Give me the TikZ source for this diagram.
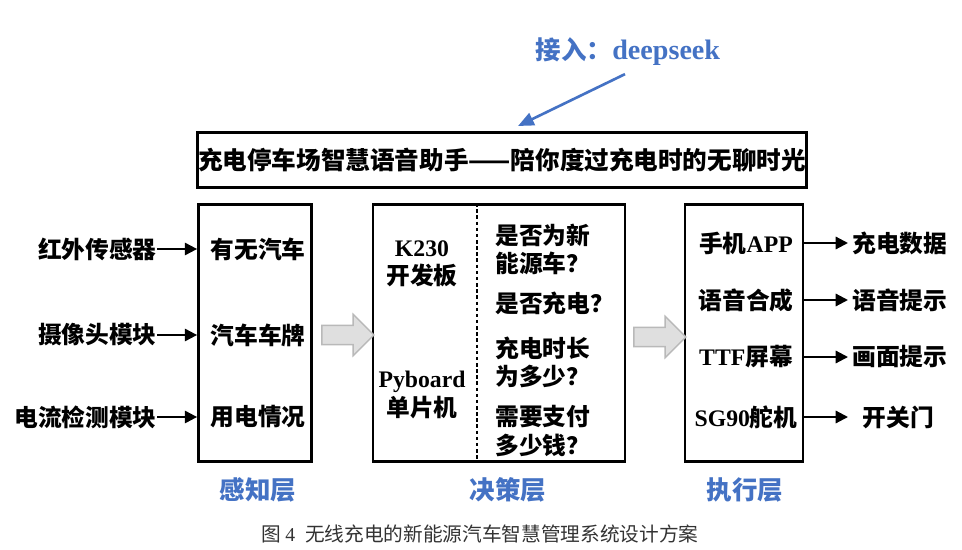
\documentclass[tikz,border=0pt]{standalone}
\usepackage{fontspec}
\setmainfont{Noto Sans CJK SC}
\newfontfamily\latfont{Liberation Serif}[BoldFont={Liberation Serif Bold}]
\newcommand{\lat}[1]{{\latfont\bfseries #1}}
\usetikzlibrary{arrows.meta,positioning,shapes.arrows}
\definecolor{layerblue}{RGB}{68,114,196}

\begin{document}
\begin{tikzpicture}[
		x=0.02cm, y=-0.02cm,
		box/.style={draw, line width=1.6pt, inner sep=0pt},
		txt/.style={font=\fontsize{13.5pt}{16pt}\selectfont\bfseries, inner sep=0pt, align=center},
		layer/.style={font=\fontsize{14.5pt}{17pt}\selectfont\bfseries, text=layerblue},
		arrow/.style={-{Triangle[length=7pt,width=7pt]}, line width=1.2pt},
		dsarrow/.style={-{Triangle[length=9pt,width=7.5pt]}, line width=1.5pt, draw=layerblue, fill=layerblue},
		flow/.style={single arrow, draw=gray!55, fill=gray!25, line width=0.8pt, minimum height=1.04cm, inner xsep=0pt, inner ysep=0.18cm, single arrow head extend=0.22cm},
	]
		\useasboundingbox (0,0) rectangle (962,550);
		
		% top: deepseek and title
		\node[layer] (ds) at (628,52) {接入：\lat{\fontsize{16pt}{18pt}\selectfont deepseek}};
		\node[box, minimum width=12.18cm, minimum height=1.1cm, font=\fontsize{14pt}{16pt}\selectfont\bfseries] (title) at (502,160) {充电停车场智慧语音助手——陪你度过充电时的无聊时光};
		\coordinate (dsend) at (518,126);
		\draw[dsarrow] ([xshift=-0.06cm,yshift=-0.04cm]ds.south) -- (dsend);
		
		% three layers
		\node[box, minimum width=2.26cm, minimum height=5.14cm] (sense) at (255,333) {};
		\node[box, minimum width=5.04cm, minimum height=5.14cm] (decide) at (499,333) {};
		\node[box, minimum width=2.36cm, minimum height=5.14cm] (act) at (744,333) {};
		\node[flow] (flow1) at (343,335) {};
		\node[flow] (flow2) at (655,337) {};
		
		% sensing
		\node[txt, anchor=east] (ir) at (157,249) {红外传感器};
		\node[txt, anchor=east] (cam) at (157,335) {摄像头模块};
		\node[txt, anchor=east] (cur) at (157,417) {电流检测模块};
		\node[txt] (car) at (258,249) {有无汽车};
		\node[txt] (plate) at (258,335) {汽车车牌};
		\node[txt] (power) at (258,417) {用电情况};
		\draw[arrow] (ir.east) -- (ir -| sense.west);
		\draw[arrow] (cam.east) -- (cam -| sense.west);
		\draw[arrow] (cur.east) -- (cur -| sense.west);
		
		% decision
		\coordinate (split) at (477,0);
		\draw[line width=0.9pt, dash pattern=on 2pt off 1.5pt] (decide.north -| split) -- (decide.south -| split);
		\node[txt] (k230) at (422,264) {\lat{K230}\\开发板};
		\node[txt] (pyb) at (422,395) {\lat{Pyboard}\\单片机};
		\node[txt, anchor=west, align=left] (q1) at (495,249) {是否为新\\能源车？};
		\node[txt, anchor=west, align=left] (q2) at (495,303) {是否充电？};
		\node[txt, anchor=west, align=left] (q3) at (495,362) {充电时长\\为多少？};
		\node[txt, anchor=west, align=left] (q4) at (495,431) {需要支付\\多少钱？};
		
		% action
		\node[txt] (app) at (746,243) {手机\lat{APP}};
		\node[txt] (voice) at (746,300) {语音合成};
		\node[txt] (tft) at (746,357) {\lat{TTF}屏幕};
		\node[txt] (servo) at (746,417) {\lat{SG90}舵机};
		\node[txt, anchor=west, minimum width=1.84cm] (data) at (852,243) {充电数据};
		\node[txt, anchor=west, minimum width=1.84cm] (tip) at (852,300) {语音提示};
		\node[txt, anchor=west, minimum width=1.84cm] (screen) at (852,357) {画面提示};
		\node[txt, anchor=west, minimum width=1.84cm] (door) at (852,417) {开关门};
		\draw[arrow, shorten >=0.08cm] (app -| act.east) -- (data.west);
		\draw[arrow, shorten >=0.08cm] (voice -| act.east) -- (tip.west);
		\draw[arrow, shorten >=0.08cm] (tft -| act.east) -- (screen.west);
		\draw[arrow, shorten >=0.08cm] (servo -| act.east) -- (door.west);
		
		% layer names and caption
		\node[layer] (l1) at (258,490) {感知层};
		\node[layer] (l2) at (508,490) {决策层};
		\node[layer] (l3) at (745,490) {执行层};
		\node[font=\fontsize{11.2pt}{13pt}\selectfont, text=black!80] (cap) at (480,534) {图 {\latfont 4}\enspace 无线充电的新能源汽车智慧管理系统设计方案};
	\end{tikzpicture}
\end{document}
